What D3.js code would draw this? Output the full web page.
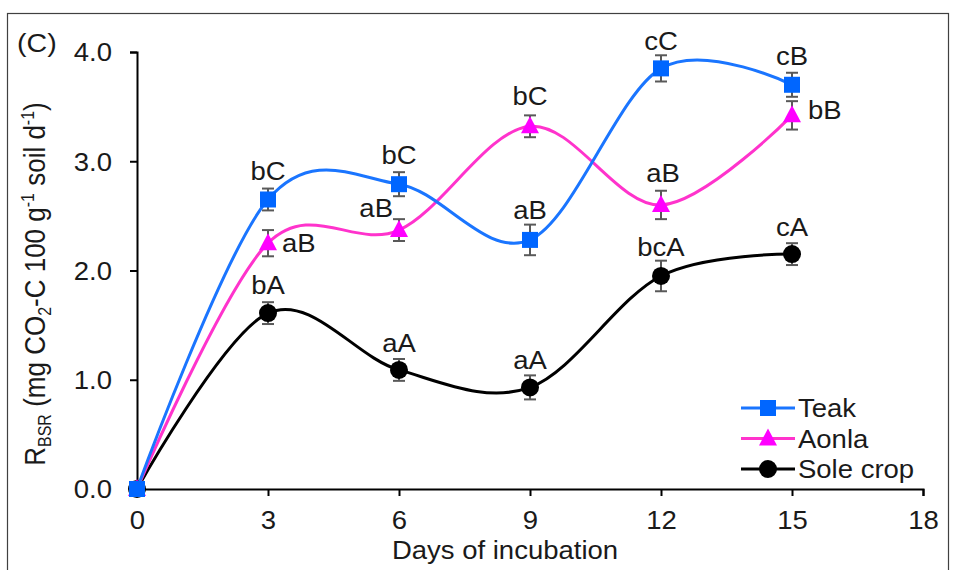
<!DOCTYPE html>
<html>
<head>
<meta charset="utf-8">
<script src="https://cdn.jsdelivr.net/npm/d3@7/dist/d3.min.js"></script>
<style>
  html, body { margin: 0; padding: 0; background: #fff; }
  svg { display: block; font-family: "Liberation Sans", Arial, sans-serif; }
</style>
</head>
<body>
<svg id="chart" width="960" height="570"></svg>
<script>
// Days of incubation
const days = [0, 3, 6, 9, 12, 15];

// Basal soil respiration means (mg CO2-C 100 g-1 soil d-1)
const teak = [0, 2.65, 2.79, 2.28, 3.85, 3.70];
const aonla = [0, 2.25, 2.37, 3.32, 2.60, 3.42];
const soleCrop = [0, 1.61, 1.09, 0.93, 1.95, 2.15];

// Standard errors
const teakErr = [0, 0.10, 0.11, 0.14, 0.12, 0.11];
const aonlaErr = [0, 0.12, 0.10, 0.10, 0.13, 0.13];
const soleErr = [0, 0.10, 0.10, 0.11, 0.14, 0.10];

// Significance letters
const teakLetters = ["", "bC", "bC", "aB", "cC", "cB"];
const aonlaLetters = ["", "aB", "aB", "bC", "aB", "bB"];
const soleLetters = ["", "bA", "aA", "aA", "bcA", "cA"];

// Axis ticks
const xTicks = [0, 3, 6, 9, 12, 15, 18];
const yTicks = [0, 1, 2, 3, 4];

const FS = 25;      // base font size
const SX = 1.1;     // horizontal text widening
const INK = "#1a1a1a";

const svg = d3.select("#chart");

// place a text at (x, y) with a slight horizontal widening
function wideText(parent, x, y, str, anchor, size) {
  return parent.append("text")
    .attr("transform", `translate(${x},${y}) scale(${SX},1)`)
    .attr("text-anchor", anchor || "start")
    .attr("font-size", size || FS)
    .attr("fill", INK)
    .text(str);
}

// outer frame
svg.append("rect")
  .attr("x", 7.5).attr("y", 13.5)
  .attr("width", 941).attr("height", 600)
  .attr("fill", "none").attr("stroke", "#404040").attr("stroke-width", 1.2);

const x = d3.scaleLinear().domain([0, 18]).range([137, 923]);
const y = d3.scaleLinear().domain([0, 4]).range([489, 52]);

// y axis
const yAxis = svg.append("g")
  .attr("transform", "translate(137,0)")
  .call(d3.axisLeft(y).tickValues(yTicks).tickFormat(d3.format(".1f")).tickSizeOuter(0).tickSize(7));
// x axis
const xAxis = svg.append("g")
  .attr("transform", "translate(0,489)")
  .call(d3.axisBottom(x).tickValues(xTicks).tickSizeOuter(0).tickSize(7));

[yAxis, xAxis].forEach(g => {
  g.select(".domain").attr("stroke", "#000").attr("stroke-width", 2);
  g.selectAll(".tick line").attr("stroke", "#000").attr("stroke-width", 2);
  g.selectAll(".tick text")
    .attr("font-size", FS)
    .attr("fill", INK)
    .attr("font-family", "Liberation Sans, Arial, sans-serif");
});
yAxis.selectAll(".tick text")
  .attr("x", null).attr("dy", "0.35em")
  .attr("transform", `translate(-25,0) scale(${SX},1)`);
xAxis.selectAll(".tick text")
  .attr("y", null).attr("dy", "0.71em")
  .attr("transform", `translate(0,22) scale(${SX},1)`);

// axis titles
wideText(svg, 505, 559, "Days of incubation", "middle");

const yt = svg.append("text")
  .attr("transform", "translate(45,284) rotate(-90) scale(1,1.1)")
  .attr("text-anchor", "middle")
  .attr("font-size", 26).attr("fill", INK);
yt.append("tspan").text("R");
yt.append("tspan").attr("font-size", 16).attr("dy", 5).text("BSR");
yt.append("tspan").attr("dy", -5).text(" (mg CO");
yt.append("tspan").attr("font-size", 16).attr("dy", 5).text("2");
yt.append("tspan").attr("dy", -5).text("-C 100 g");
yt.append("tspan").attr("font-size", 16).attr("dy", -10).text("-1");
yt.append("tspan").attr("dy", 10).text(" soil d");
yt.append("tspan").attr("font-size", 16).attr("dy", -10).text("-1");
yt.append("tspan").attr("dy", 10).text(")");

wideText(svg, 17, 52, "(C)", "start", 26);

const line = d3.line()
  .x((d, i) => x(days[i]))
  .y(d => y(d))
  .curve(d3.curveCatmullRom.alpha(0));

const series = [
  { name: "Sole crop", values: soleCrop, err: soleErr, letters: soleLetters, line: "#000000", fill: "#000000", marker: "circle" },
  { name: "Aonla", values: aonla, err: aonlaErr, letters: aonlaLetters, line: "#FF33CC", fill: "#FF00FF", marker: "triangle" },
  { name: "Teak", values: teak, err: teakErr, letters: teakLetters, line: "#1A75FF", fill: "#0066FF", marker: "square" }
];

function drawMarker(g, type, cx, cy, color) {
  if (type === "square") {
    g.append("rect").attr("x", cx - 8).attr("y", cy - 8).attr("width", 16).attr("height", 16).attr("fill", color);
  } else if (type === "triangle") {
    g.append("path")
      .attr("d", `M${cx},${cy - 10}L${cx + 9},${cy + 7}L${cx - 9},${cy + 7}Z`)
      .attr("fill", color);
  } else {
    g.append("circle").attr("cx", cx).attr("cy", cy).attr("r", 9).attr("fill", color);
  }
}

series.forEach(s => {
  const g = svg.append("g");
  g.append("path")
    .datum(s.values)
    .attr("d", line)
    .attr("fill", "none")
    .attr("stroke", s.line)
    .attr("stroke-width", 3);
  // error bars
  s.values.forEach((v, i) => {
    if (!s.err[i]) return;
    const cx = x(days[i]);
    const e = g.append("g").attr("stroke", "#595959").attr("stroke-width", 2);
    e.append("line").attr("x1", cx).attr("x2", cx).attr("y1", y(v + s.err[i])).attr("y2", y(v - s.err[i]));
    e.append("line").attr("x1", cx - 6).attr("x2", cx + 6).attr("y1", y(v + s.err[i])).attr("y2", y(v + s.err[i]));
    e.append("line").attr("x1", cx - 6).attr("x2", cx + 6).attr("y1", y(v - s.err[i])).attr("y2", y(v - s.err[i]));
  });
  s.values.forEach((v, i) => drawMarker(g, s.marker, x(days[i]), y(v), s.fill));
});

// significance labels: [dx, baseline dy, anchor] relative to each point
const labelPos = {
  "Teak": [null, [0, -19, "middle"], [0, -20, "middle"], [0, -21, "middle"], [0, -18, "middle"], [0, -20, "middle"]],
  "Aonla": [null, [14, 9, "start"], [-6, -13, "end"], [0, -21, "middle"], [2, -23, "middle"], [16, 4, "start"]],
  "Sole crop": [null, [0, -19, "middle"], [0, -18, "middle"], [0, -18, "middle"], [0, -20, "middle"], [0, -18, "middle"]]
};
series.forEach(s => {
  s.letters.forEach((t, i) => {
    if (!t) return;
    const p = labelPos[s.name][i];
    wideText(svg, x(days[i]) + p[0], y(s.values[i]) + p[1], t, p[2]);
  });
});

// legend
const legendItems = [series[2], series[1], series[0]];
const lg = svg.append("g");
legendItems.forEach((s, i) => {
  const ly = 408 + i * 30.5;
  lg.append("line").attr("x1", 741).attr("x2", 795).attr("y1", ly).attr("y2", ly)
    .attr("stroke", s.line).attr("stroke-width", 3);
  drawMarker(lg, s.marker, 768, ly, s.fill);
  wideText(lg, 798, ly + 9, s.name, "start");
});
</script>
</body>
</html>
